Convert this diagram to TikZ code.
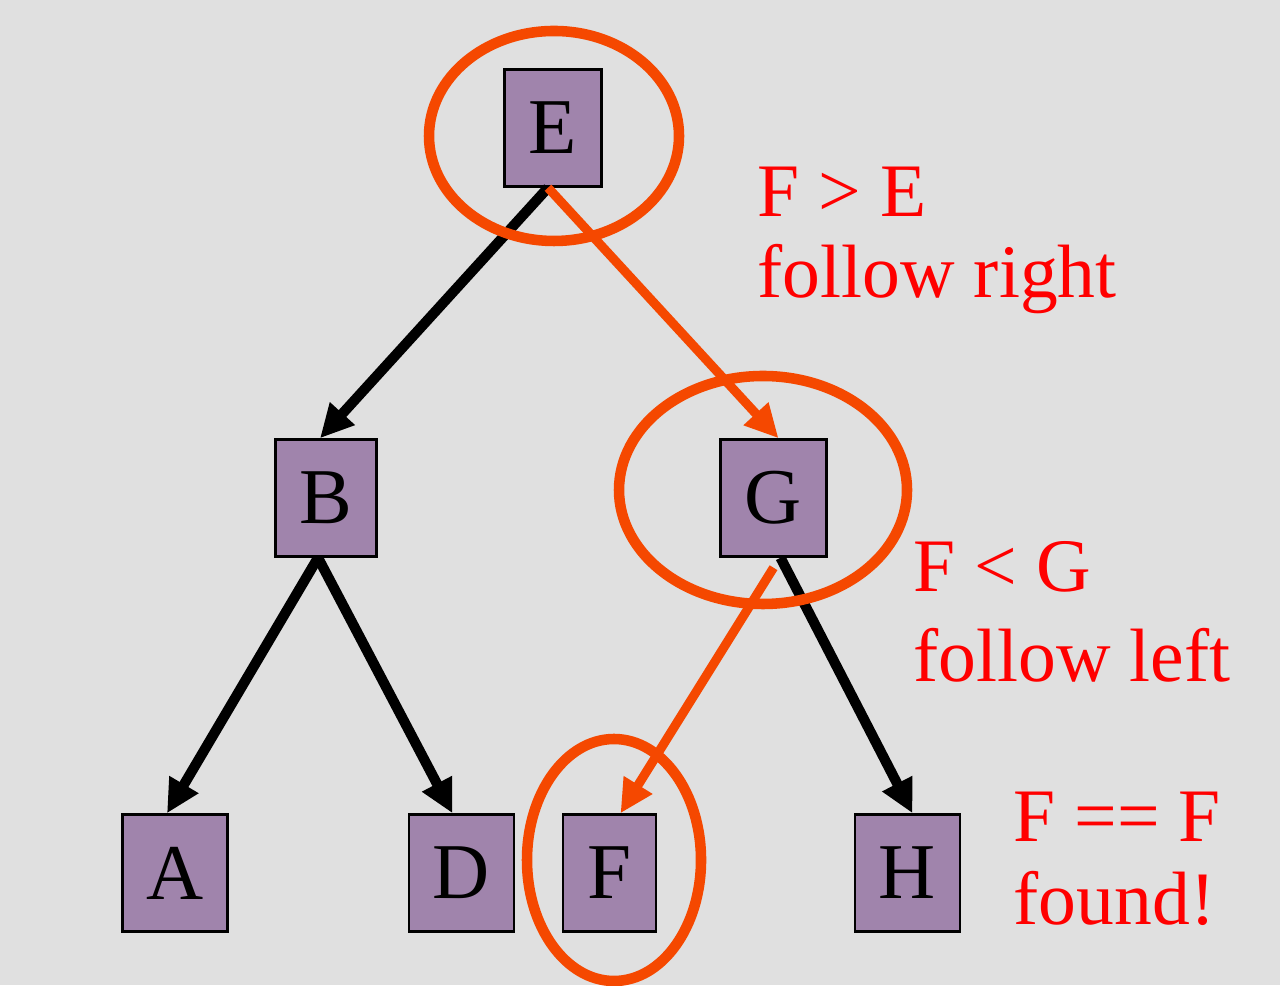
\documentclass[tikz,border=0pt]{standalone}
\usepackage{fontspec}
\setmainfont{Liberation Serif}
\usepackage{tikz}
\usepackage{xcolor}
\usetikzlibrary{arrows.meta,calc}
\definecolor{bgGray}{RGB}{224,224,224}
\definecolor{boxPurple}{RGB}{160,132,172}
\definecolor{ringOrange}{RGB}{245,72,0}

\begin{document}
\begin{tikzpicture}[
  treebox/.style={draw=black,line width=0.7pt,fill=boxPurple,minimum height=1.17cm,inner sep=0pt,font=\fontsize{22.5}{24}\selectfont},
  edge/.style={line width=2.9pt,-{Triangle[length=9.5pt,width=9pt]}},
  hotedge/.style={edge,ringOrange,line width=2.6pt},
  ring/.style={ringOrange,line width=3pt},
  note/.style={red,anchor=base west,inner sep=0pt,font=\fontsize{21.5}{23}\selectfont}
]
\useasboundingbox (0,0) rectangle (12.8,9.85);
\fill[bgGray] (0,0) rectangle (12.8,9.85);
\foreach \name/\x/\y/\w in {E/5.53/8.57/0.97,B/3.26/4.87/1.01,G/7.735/4.87/1.06,A/1.75/1.12/1.05,D/4.615/1.12/1.05,F/6.095/1.12/0.93,H/9.075/1.12/1.05}{
\node[treebox,minimum width=\w cm] (\name) at (\x,\y) {\name};
}
\draw[edge] ([xshift=-0.05cm]E.south)--([xshift=-0.06cm]B.north);
\draw[edge] ([xshift=-0.08cm]B.south)--([xshift=-0.08cm]A.north);
\draw[edge] ([xshift=-0.08cm]B.south)--([xshift=-0.09cm]D.north);
\draw[edge] ([xshift=0.07cm]G.south)--([xshift=0.05cm]H.north);
\draw[hotedge] ([xshift=-0.05cm]E.south)--([xshift=0.05cm]G.north);
\draw[hotedge] ([yshift=-0.1cm]G.south)--([xshift=0.11cm]F.north);
\draw[ring] (5.54,8.49) ellipse (1.25 and 1.05);
\draw[ring] (7.63,4.95) ellipse (1.44 and 1.14);
\draw[ring] (6.14,1.25) ellipse (0.87 and 1.21);
\node[note] (cmpE) at (7.57,7.68) {F > E};
\node[note] (goE) at (7.57,6.87) {follow right};
\node[note] (cmpG) at (9.13,3.93) {F < G};
\node[note] (goG) at (9.13,3.03) {follow left};
\node[note] (cmpF) at (10.13,1.44) {F == F};
\node[note] (goF) at (10.13,0.61) {found!};
\end{tikzpicture}
\end{document}
